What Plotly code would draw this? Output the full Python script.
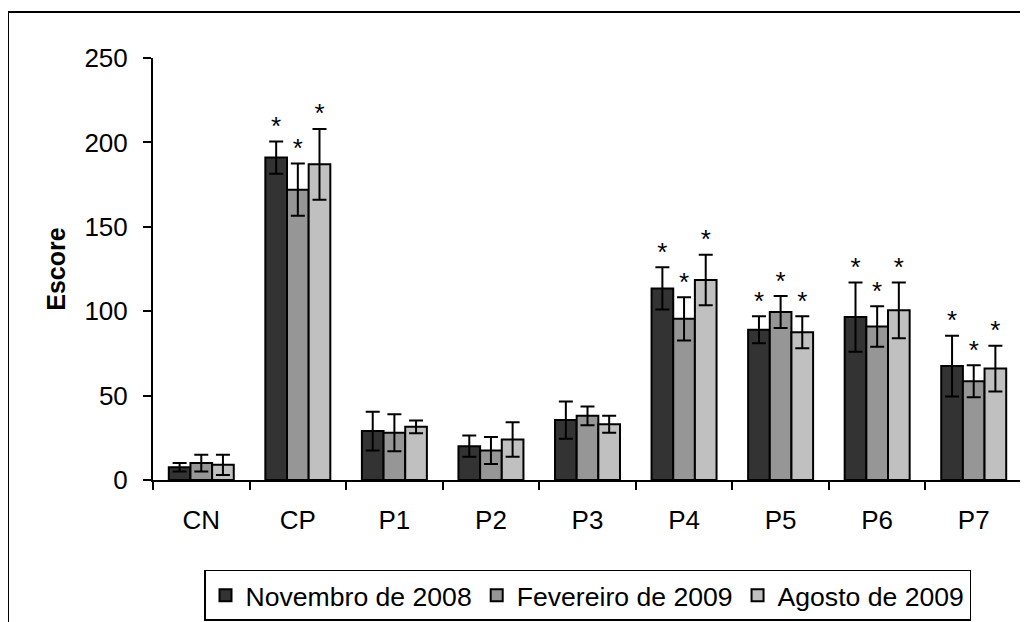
import plotly.graph_objects as go

categories = ["CN", "CP", "P1", "P2", "P3", "P4", "P5", "P6", "P7"]
series_names = ["Novembro de 2008", "Fevereiro de 2009", "Agosto de 2009"]

nov_2008 = [7.5, 191, 29, 20, 35.5, 113.5, 89, 96.5, 67.5]
nov_2008_err = [2.5, 9.5, 11.5, 6.3, 11, 12.5, 8, 20.5, 18]
fev_2009 = [10, 172, 28, 17.5, 38, 95.5, 99.5, 91, 58.5]
fev_2009_err = [5, 15.5, 11, 8, 5.5, 12.8, 9.5, 12, 9.5]
ago_2009 = [9, 187, 31.5, 24, 33, 118.5, 87.5, 100.5, 66]
ago_2009_err = [6, 21, 3.8, 10.2, 5, 15, 9.5, 16.5, 13.5]

# categories marked as significant (*)
significant = ["CP", "P4", "P5", "P6", "P7"]

colors = ["#333333", "#969696", "#c0c0c0"]
values = [nov_2008, fev_2009, ago_2009]
errors = [nov_2008_err, fev_2009_err, ago_2009_err]

FONT = "Arial, Liberation Sans, sans-serif"

fig = go.Figure()
for i, (name, vals, errs, col) in enumerate(zip(series_names, values, errors, colors)):
    fig.add_trace(go.Bar(
        x=categories, y=vals, name=name, offsetgroup=str(i),
        marker=dict(color=col, line=dict(color="black", width=2)),
        error_y=dict(type="data", array=errs, visible=True, color="black",
                     thickness=2, width=7),
    ))
for i, (vals, errs) in enumerate(zip(values, errors)):
    ys = [v + e if c in significant else None for c, v, e in zip(categories, vals, errs)]
    txt = ["*" if c in significant else "" for c in categories]
    fig.add_trace(go.Scatter(
        x=categories, y=ys, mode="text", text=txt, offsetgroup=str(i),
        textposition="top center", textfont=dict(family=FONT, size=26, color="black"),
        showlegend=False, hoverinfo="skip", cliponaxis=False,
    ))

PL, PT, PW, PH = 145, 50, 869, 422

fig.update_layout(
    width=1028, height=622,
    margin=dict(l=PL, r=1028 - PL - PW, t=PT, b=622 - PT - PH, autoexpand=False),
    paper_bgcolor="white", plot_bgcolor="white",
    barmode="group", bargap=0.327, bargroupgap=0,
    scattermode="group",
    font=dict(family=FONT, size=26, color="black"),
    showlegend=True,
    legend=dict(orientation="h", x=0.5, xanchor="center", y=-0.213, yanchor="top",
                bordercolor="black", borderwidth=1.5, font=dict(size=26.6),
                traceorder="normal", itemwidth=30),
    xaxis=dict(type="category", showline=True, linecolor="black", linewidth=2,
               ticks="outside", tickson="boundaries", ticklen=8, tickwidth=2,
               tickcolor="black", showgrid=False, zeroline=False, automargin=False,
               ticklabelstandoff=16),
    yaxis=dict(range=[0, 250], dtick=50, showline=True, linecolor="black", linewidth=2,
               ticks="outside", ticklen=8, tickwidth=2, tickcolor="black",
               showgrid=False, zeroline=False, ticklabelstandoff=10, automargin=False,
               title=dict(text="<b>Escore</b>", standoff=12, font=dict(size=25))),
    shapes=[dict(type="rect", xref="paper", yref="paper",
                 x0=(0 - PL) / PW, x1=(1060 - PL) / PW,
                 y0=-(700 - PT - PH) / PH, y1=(PH + PT - 4) / PH,
                 line=dict(color="black", width=2), layer="below")],
)

fig.write_html("out.html")
